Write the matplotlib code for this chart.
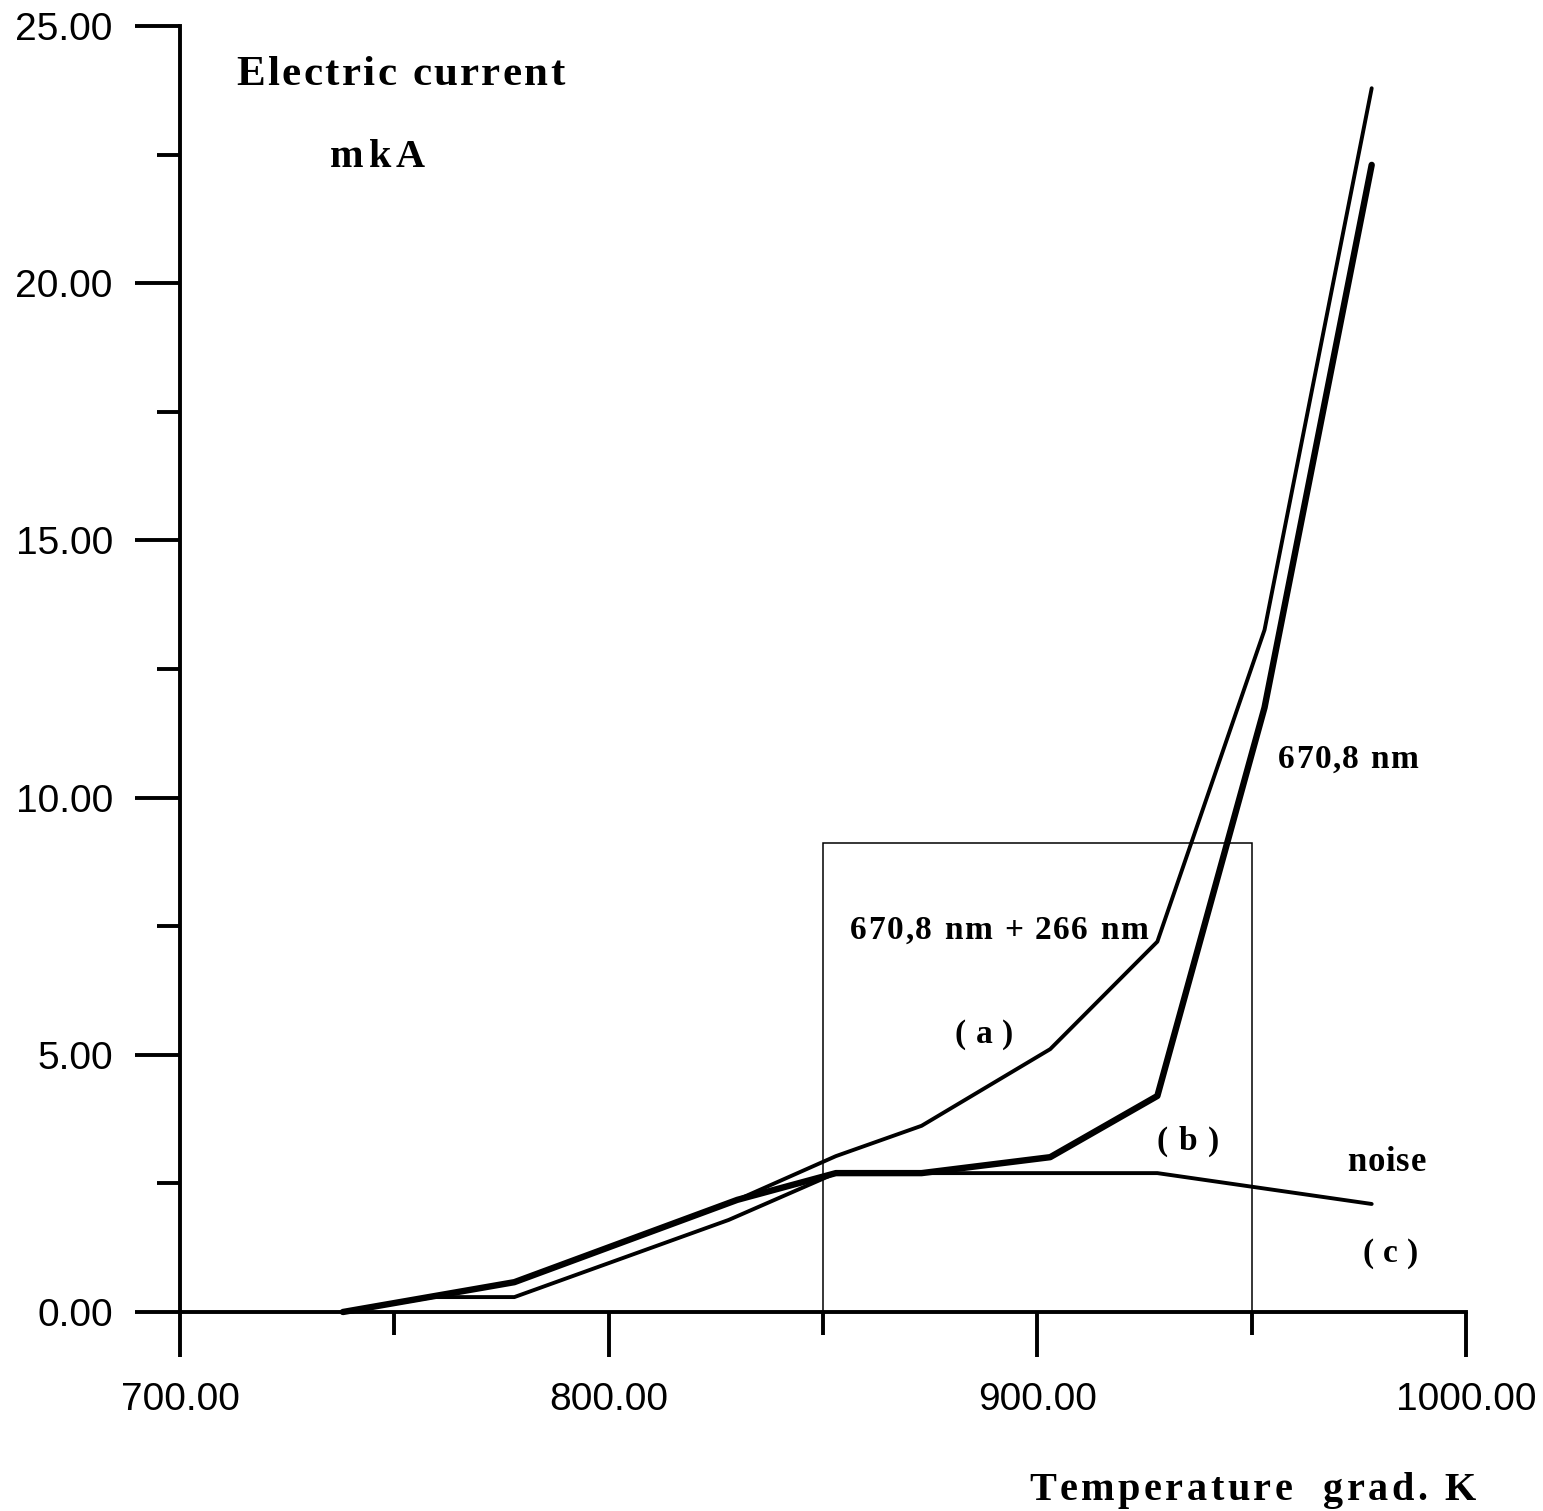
import matplotlib
matplotlib.use('Agg')
import matplotlib.pyplot as plt
from matplotlib.patches import Rectangle
from matplotlib.ticker import FormatStrFormatter, MultipleLocator
from matplotlib.transforms import offset_copy

# curve (a): 670,8 nm + 266 nm
temp_a = [738, 778, 830, 853, 873, 903, 928, 953, 978]
cur_a = [0.0, 0.58, 2.18, 3.03, 3.62, 5.11, 7.20, 13.26, 23.79]
# curve (b): 670,8 nm
temp_b = [738, 778, 830, 853, 873, 903, 928, 953, 978]
cur_b = [0.0, 0.58, 2.18, 2.70, 2.70, 3.01, 4.20, 11.75, 22.30]
# curve (c): noise
temp_c = [738, 759, 778, 828, 853, 873, 903, 928, 978]
cur_c = [0.0, 0.29, 0.29, 1.79, 2.70, 2.70, 2.70, 2.70, 2.10]

# marked region
box_t0, box_t1, box_top = 850, 950, 9.12

DPI = 100
fig = plt.figure(figsize=(15.43, 15.11), dpi=DPI)
ax = fig.add_axes([180 / 1543, 199 / 1511, 1286 / 1543, 1286 / 1511])
ax.set_xlim(700, 1000)
ax.set_ylim(0, 25)

ax.add_patch(Rectangle((box_t0, 0), box_t1 - box_t0, box_top, fill=False,
                       lw=1.1, ec='black', zorder=1))
ax.plot(temp_c, cur_c, color='black', lw=2.8, clip_on=False,
        solid_capstyle='round', solid_joinstyle='round', zorder=3)
ax.plot(temp_a, cur_a, color='black', lw=2.8, clip_on=False,
        solid_capstyle='round', solid_joinstyle='round', zorder=3)
ax.plot(temp_b, cur_b, color='black', lw=4.6, clip_on=False,
        solid_capstyle='round', solid_joinstyle='round', zorder=4)

for s in ['top', 'right']:
    ax.spines[s].set_visible(False)
for s in ['left', 'bottom']:
    ax.spines[s].set_linewidth(2.8)

ax.xaxis.set_major_locator(MultipleLocator(100))
ax.xaxis.set_minor_locator(MultipleLocator(50))
ax.yaxis.set_major_locator(MultipleLocator(5))
ax.yaxis.set_minor_locator(MultipleLocator(2.5))
ax.xaxis.set_major_formatter(FormatStrFormatter('%.2f'))
ax.yaxis.set_major_formatter(FormatStrFormatter('%.2f'))
ax.tick_params(which='major', direction='out', length=32.4, width=2.8,
               labelsize=28)
ax.tick_params(which='minor', direction='out', length=16.5, width=2.8)
ax.tick_params(axis='x', which='major', pad=18)
ax.tick_params(axis='y', which='major', pad=16)
for lab in ax.get_xticklabels() + ax.get_yticklabels():
    lab.set_fontfamily('Liberation Sans')

ren = fig.canvas.get_renderer()


def spaced_text(x, y, s, size, width):
    # letter by letter, stretched so the run is `width` pixels long
    glyphs = []
    for ch in s:
        if ch == ' ':
            glyphs.append((None, 0.25 * size * DPI / 72))
            continue
        t = ax.text(x, y, ch, fontsize=size, family='Liberation Serif',
                    weight='bold', ha='left', va='baseline', clip_on=False)
        glyphs.append((t, t.get_window_extent(ren).width))
    gap = (width - sum(w for _, w in glyphs)) / (len(glyphs) - 1)
    dx = 0
    for t, w in glyphs:
        if t is not None:
            t.set_transform(offset_copy(ax.transData, fig=fig, x=dx, y=0,
                                        units='dots'))
        dx += w + gap


spaced_text(713.06, 23.85, 'Electric current', 31, 329)
spaced_text(734.99, 22.26, 'mkA', 29, 95)
spaced_text(956.13, 10.58, '670,8 nm', 24, 140)
spaced_text(856.29, 7.25, '670,8 nm + 266 nm', 24, 298)
spaced_text(880.79, 5.23, '( a )', 24, 58)
spaced_text(927.91, 3.15, '( b )', 24, 62)
spaced_text(972.23, 2.74, 'noise', 25, 79)
spaced_text(975.96, 0.97, '( c )', 24, 55)
spaced_text(898.05, -3.65, 'Temperature  grad. K', 29, 447)

fig.savefig('out.png', dpi=DPI)
